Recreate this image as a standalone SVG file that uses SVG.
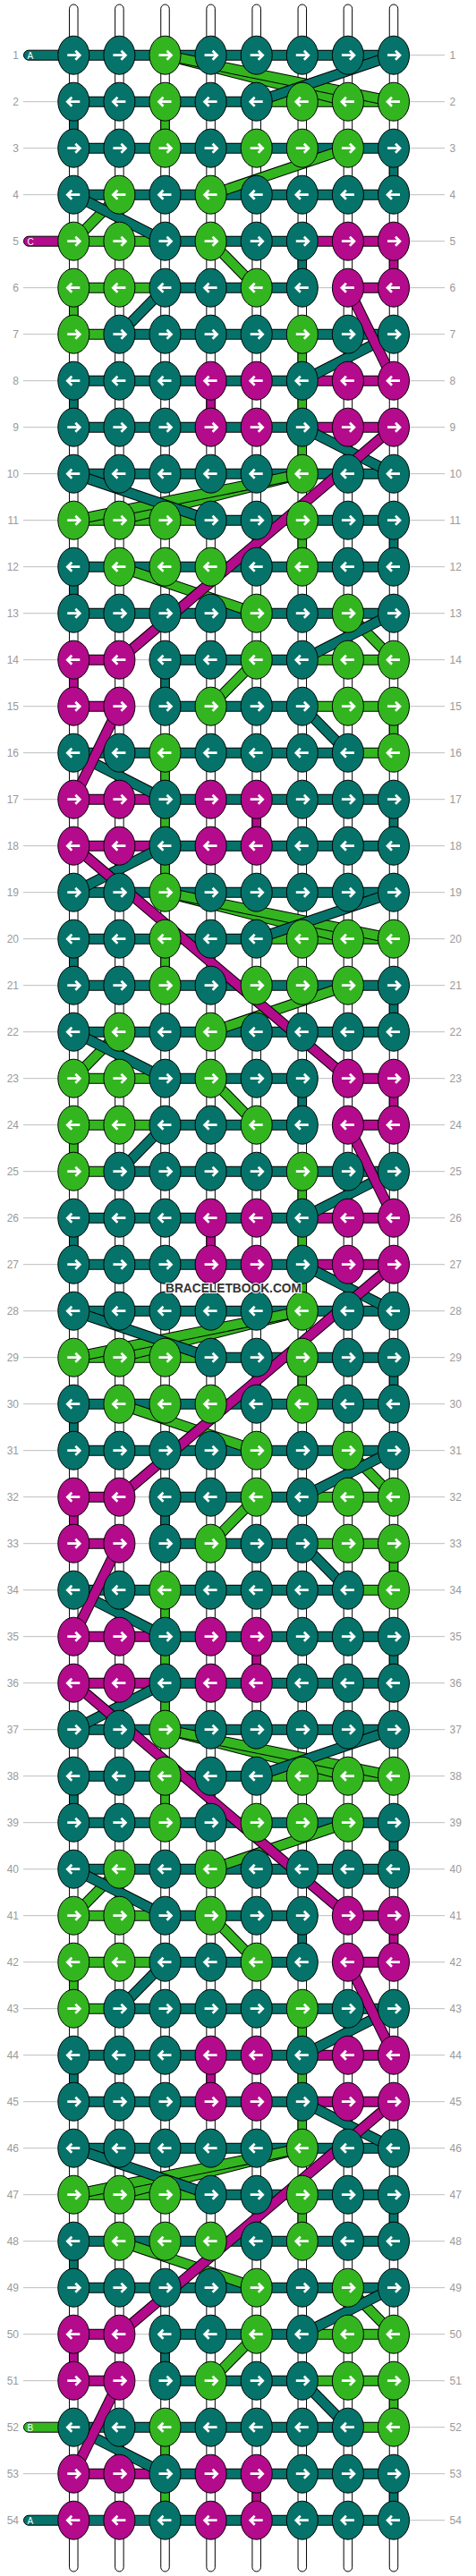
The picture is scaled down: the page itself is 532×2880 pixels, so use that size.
<svg xmlns="http://www.w3.org/2000/svg" width="532" height="2880" viewBox="0 0 532 2880">
<defs>
<style>
.rl{stroke:#bdbdbd;stroke-width:1;fill:none}
.lb{font-family:"Liberation Sans",Arial,sans-serif;font-size:12px;fill:#9a9a9a}
.st{fill:#fff;stroke:#000;stroke-width:1}
.o{fill:none;stroke:#000;stroke-width:12}
.t{fill:none;stroke:#05736A;stroke-width:10}
.g{fill:none;stroke:#33B51F;stroke-width:10}
.m{fill:none;stroke:#B40A8C;stroke-width:10}
.vT{fill:#05736A;stroke:#000;stroke-width:1}
.vG{fill:#33B51F;stroke:#000;stroke-width:1}
.vM{fill:#B40A8C;stroke:#000;stroke-width:1}
.ar{fill:none;stroke:#fff;stroke-width:2.7}
.li{font-family:"Liberation Sans",Arial,sans-serif;font-size:10px;fill:#fff}
</style>
<g id="TR"><ellipse rx="17.5" ry="21.5" fill="#05736A" stroke="#000"/><path class="ar" d="M-7,0H7M2,-5L7,0L2,5"/></g>
<g id="TL"><ellipse rx="17.5" ry="21.5" fill="#05736A" stroke="#000"/><path class="ar" d="M7,0H-7M-2,-5L-7,0L-2,5"/></g>
<g id="GR"><ellipse rx="17.5" ry="21.5" fill="#33B51F" stroke="#000"/><path class="ar" d="M-7,0H7M2,-5L7,0L2,5"/></g>
<g id="GL"><ellipse rx="17.5" ry="21.5" fill="#33B51F" stroke="#000"/><path class="ar" d="M7,0H-7M-2,-5L-7,0L-2,5"/></g>
<g id="MR"><ellipse rx="17.5" ry="21.5" fill="#B40A8C" stroke="#000"/><path class="ar" d="M-7,0H7M2,-5L7,0L2,5"/></g>
<g id="ML"><ellipse rx="17.5" ry="21.5" fill="#B40A8C" stroke="#000"/><path class="ar" d="M7,0H-7M-2,-5L-7,0L-2,5"/></g>
<g id="per">
<rect class="vT" x="77.55" y="113.7" width="9.5" height="52"/>
<rect class="vG" x="179.75" y="113.7" width="9.5" height="52"/>
<rect class="vT" x="435.25" y="165.7" width="9.5" height="52"/>
<rect class="vT" x="333.05" y="269.7" width="9.5" height="52"/>
<rect class="vM" x="435.25" y="269.7" width="9.5" height="52"/>
<rect class="vG" x="77.55" y="321.7" width="9.5" height="52"/>
<rect class="vG" x="333.05" y="373.7" width="9.5" height="52"/>
<rect class="vT" x="77.55" y="425.7" width="9.5" height="52"/>
<rect class="vM" x="230.85" y="425.7" width="9.5" height="52"/>
<rect class="vG" x="333.05" y="425.7" width="9.5" height="52"/>
<rect class="vG" x="333.05" y="477.7" width="9.5" height="52"/>
<rect class="vG" x="333.05" y="581.7" width="9.5" height="52"/>
<rect class="vT" x="435.25" y="581.7" width="9.5" height="52"/>
<rect class="vT" x="77.55" y="633.7" width="9.5" height="52"/>
<rect class="vM" x="77.55" y="737.7" width="9.5" height="52"/>
<rect class="vT" x="179.75" y="737.7" width="9.5" height="52"/>
<rect class="vG" x="435.25" y="789.7" width="9.5" height="52"/>
<rect class="vG" x="179.75" y="841.7" width="9.5" height="52"/>
<rect class="vG" x="179.75" y="893.7" width="9.5" height="52"/>
<rect class="vM" x="281.95" y="893.7" width="9.5" height="52"/>
<rect class="vT" x="435.25" y="893.7" width="9.5" height="52"/>
<path class="o" d="M82.3,61.7H440M82.3,113.7H440M82.3,165.7H440M82.3,217.7H440M82.3,269.7H337.8M388.9,269.7H440M82.3,321.7H337.8M388.9,321.7H440M82.3,373.7H440M82.3,425.7H440M82.3,477.7H440M82.3,529.7H440M82.3,581.7H440M82.3,633.7H440M82.3,685.7H440M82.3,737.7H133.4M184.5,737.7H440M82.3,789.7H133.4M184.5,789.7H440M82.3,841.7H440M82.3,893.7H440M82.3,945.7H440"/>
<path class="t" d="M82.3,61.7H440M82.3,113.7H286.7M82.3,165.7H440M82.3,217.7H440M184.5,269.7H337.8M184.5,321.7H337.8M133.4,373.7H440M82.3,425.7H337.8M82.3,477.7H337.8M82.3,529.7H440M235.6,581.7H440M82.3,633.7H440M82.3,685.7H440M184.5,737.7H337.8M184.5,789.7H337.8M82.3,841.7H388.9M184.5,893.7H440M184.5,945.7H440"/>
<path class="g" d="M286.7,113.7H440M82.3,269.7H184.5M82.3,321.7H184.5M82.3,373.7H133.4M82.3,581.7H235.6M337.8,737.7H440M337.8,789.7H440M388.9,841.7H440"/>
<path class="m" d="M388.9,269.7H440M388.9,321.7H440M337.8,425.7H440M337.8,477.7H440M82.3,737.7H133.4M82.3,789.7H133.4M82.3,893.7H184.5M82.3,945.7H184.5"/>
<path class="o" d="M184.5,61.7L388.9,113.7"/><path class="g" d="M184.5,61.7L388.9,113.7"/>
<path class="o" d="M184.5,61.7L440,113.7"/><path class="g" d="M184.5,61.7L440,113.7"/>
<path class="o" d="M388.9,165.7L235.6,217.7"/><path class="g" d="M388.9,165.7L235.6,217.7"/>
<path class="o" d="M133.4,217.7L82.3,269.7"/><path class="g" d="M133.4,217.7L82.3,269.7"/>
<path class="o" d="M235.6,269.7L286.7,321.7"/><path class="g" d="M235.6,269.7L286.7,321.7"/>
<path class="o" d="M337.8,529.7L133.4,581.7"/><path class="g" d="M337.8,529.7L133.4,581.7"/>
<path class="o" d="M337.8,529.7L82.3,581.7"/><path class="g" d="M337.8,529.7L82.3,581.7"/>
<path class="o" d="M133.4,633.7L286.7,685.7"/><path class="g" d="M133.4,633.7L286.7,685.7"/>
<path class="o" d="M388.9,685.7L440,737.7"/><path class="g" d="M388.9,685.7L440,737.7"/>
<path class="o" d="M286.7,737.7L235.6,789.7"/><path class="g" d="M286.7,737.7L235.6,789.7"/>
<path class="o" d="M440,61.7L286.7,113.7"/><path class="t" d="M440,61.7L286.7,113.7"/>
<path class="o" d="M82.3,217.7L184.5,269.7"/><path class="t" d="M82.3,217.7L184.5,269.7"/>
<path class="o" d="M184.5,321.7L133.4,373.7"/><path class="t" d="M184.5,321.7L133.4,373.7"/>
<path class="o" d="M440,373.7L337.8,425.7"/><path class="t" d="M440,373.7L337.8,425.7"/>
<path class="o" d="M337.8,477.7L440,529.7"/><path class="t" d="M337.8,477.7L440,529.7"/>
<path class="o" d="M82.3,529.7L235.6,581.7"/><path class="t" d="M82.3,529.7L235.6,581.7"/>
<path class="o" d="M440,685.7L337.8,737.7"/><path class="t" d="M440,685.7L337.8,737.7"/>
<path class="o" d="M337.8,789.7L388.9,841.7"/><path class="t" d="M337.8,789.7L388.9,841.7"/>
<path class="o" d="M82.3,841.7L184.5,893.7"/><path class="t" d="M82.3,841.7L184.5,893.7"/>
<path class="o" d="M388.9,321.7L440,425.7"/><path class="m" d="M388.9,321.7L440,425.7"/>
<path class="o" d="M440,477.7L133.4,737.7"/><path class="m" d="M440,477.7L133.4,737.7"/>
<path class="o" d="M133.4,789.7L82.3,893.7"/><path class="m" d="M133.4,789.7L82.3,893.7"/>
</g>
</defs>
<rect width="532" height="2880" fill="#fff"/>
<g id="rowlines">
<path class="rl" d="M26,61.7H497M26,113.7H497M26,165.7H497M26,217.7H497M26,269.7H497M26,321.7H497M26,373.7H497M26,425.7H497M26,477.7H497M26,529.7H497M26,581.7H497M26,633.7H497M26,685.7H497M26,737.7H497M26,789.7H497M26,841.7H497M26,893.7H497M26,945.7H497M26,997.7H497M26,1049.7H497M26,1101.7H497M26,1153.7H497M26,1205.7H497M26,1257.7H497M26,1309.7H497M26,1361.7H497M26,1413.7H497M26,1465.7H497M26,1517.7H497M26,1569.7H497M26,1621.7H497M26,1673.7H497M26,1725.7H497M26,1777.7H497M26,1829.7H497M26,1881.7H497M26,1933.7H497M26,1985.7H497M26,2037.7H497M26,2089.7H497M26,2141.7H497M26,2193.7H497M26,2245.7H497M26,2297.7H497M26,2349.7H497M26,2401.7H497M26,2453.7H497M26,2505.7H497M26,2557.7H497M26,2609.7H497M26,2661.7H497M26,2713.7H497M26,2765.7H497M26,2817.7H497"/>
</g>
<g id="strings">
<rect class="st" x="77.55" y="5" width="9.5" height="2870" rx="4.75"/>
<rect class="st" x="128.65" y="5" width="9.5" height="2870" rx="4.75"/>
<rect class="st" x="179.75" y="5" width="9.5" height="2870" rx="4.75"/>
<rect class="st" x="230.85" y="5" width="9.5" height="2870" rx="4.75"/>
<rect class="st" x="281.95" y="5" width="9.5" height="2870" rx="4.75"/>
<rect class="st" x="333.05" y="5" width="9.5" height="2870" rx="4.75"/>
<rect class="st" x="384.15" y="5" width="9.5" height="2870" rx="4.75"/>
<rect class="st" x="435.25" y="5" width="9.5" height="2870" rx="4.75"/>
</g>
<g id="connectors">
<use href="#per"/>
<use href="#per" y="936"/>
<use href="#per" y="1872"/>
<path class="o" d="M337.8,269.7H388.9"/><path class="m" d="M337.8,269.7H388.9"/>
<path class="t" d="M82.3,2817.7H184.5"/>
<rect class="vG" x="179.75" y="945.7" width="9.5" height="52"/>
<rect class="vG" x="179.75" y="1881.7" width="9.5" height="52"/>
<path class="o" d="M184.5,945.7L82.3,997.7"/><path class="t" d="M184.5,945.7L82.3,997.7"/>
<path class="o" d="M184.5,1881.7L82.3,1933.7"/><path class="t" d="M184.5,1881.7L82.3,1933.7"/>
<path class="o" d="M82.3,945.7L388.9,1205.7"/><path class="m" d="M82.3,945.7L388.9,1205.7"/>
<path class="o" d="M82.3,1881.7L388.9,2141.7"/><path class="m" d="M82.3,1881.7L388.9,2141.7"/>
</g>
<g id="leadins">
<rect x="26.5" y="56.2" width="58" height="11" rx="5.5" fill="#05736A" stroke="#000"/><text class="li" x="30.5" y="65.6">A</text>
<rect x="26.5" y="264.2" width="58" height="11" rx="5.5" fill="#B40A8C" stroke="#000"/><text class="li" x="30.5" y="273.6">C</text>
<rect x="26.5" y="2708.2" width="58" height="11" rx="5.5" fill="#33B51F" stroke="#000"/><text class="li" x="30.5" y="2717.6">B</text>
<rect x="26.5" y="2812.2" width="58" height="11" rx="5.5" fill="#05736A" stroke="#000"/><text class="li" x="30.5" y="2821.6">A</text>
</g>
<g id="nodes">
<g transform="translate(0,61.7)"><g id="n1_1"><use href="#TR" x="82.3"/></g><g id="n1_2"><use href="#TR" x="133.4"/></g><g id="n1_3"><use href="#GR" x="184.5"/></g><g id="n1_4"><use href="#TR" x="235.6"/></g><g id="n1_5"><use href="#TR" x="286.7"/></g><g id="n1_6"><use href="#TR" x="337.8"/></g><g id="n1_7"><use href="#TR" x="388.9"/></g><g id="n1_8"><use href="#TR" x="440"/></g></g>
<g transform="translate(0,113.7)"><g id="n2_1"><use href="#TL" x="82.3"/></g><g id="n2_2"><use href="#TL" x="133.4"/></g><g id="n2_3"><use href="#GL" x="184.5"/></g><g id="n2_4"><use href="#TL" x="235.6"/></g><g id="n2_5"><use href="#TL" x="286.7"/></g><g id="n2_6"><use href="#GL" x="337.8"/></g><g id="n2_7"><use href="#GL" x="388.9"/></g><g id="n2_8"><use href="#GL" x="440"/></g></g>
<g transform="translate(0,165.7)"><g id="n3_1"><use href="#TR" x="82.3"/></g><g id="n3_2"><use href="#TR" x="133.4"/></g><g id="n3_3"><use href="#GR" x="184.5"/></g><g id="n3_4"><use href="#TR" x="235.6"/></g><g id="n3_5"><use href="#GR" x="286.7"/></g><g id="n3_6"><use href="#GR" x="337.8"/></g><g id="n3_7"><use href="#GR" x="388.9"/></g><g id="n3_8"><use href="#TR" x="440"/></g></g>
<g transform="translate(0,217.7)"><g id="n4_1"><use href="#TL" x="82.3"/></g><g id="n4_2"><use href="#GL" x="133.4"/></g><g id="n4_3"><use href="#TL" x="184.5"/></g><g id="n4_4"><use href="#GL" x="235.6"/></g><g id="n4_5"><use href="#TL" x="286.7"/></g><g id="n4_6"><use href="#TL" x="337.8"/></g><g id="n4_7"><use href="#TL" x="388.9"/></g><g id="n4_8"><use href="#TL" x="440"/></g></g>
<g transform="translate(0,269.7)"><g id="n5_1"><use href="#GR" x="82.3"/></g><g id="n5_2"><use href="#GR" x="133.4"/></g><g id="n5_3"><use href="#TR" x="184.5"/></g><g id="n5_4"><use href="#GR" x="235.6"/></g><g id="n5_5"><use href="#TR" x="286.7"/></g><g id="n5_6"><use href="#TR" x="337.8"/></g><g id="n5_7"><use href="#MR" x="388.9"/></g><g id="n5_8"><use href="#MR" x="440"/></g></g>
<g transform="translate(0,321.7)"><g id="n6_1"><use href="#GL" x="82.3"/></g><g id="n6_2"><use href="#GL" x="133.4"/></g><g id="n6_3"><use href="#TL" x="184.5"/></g><g id="n6_4"><use href="#TL" x="235.6"/></g><g id="n6_5"><use href="#GL" x="286.7"/></g><g id="n6_6"><use href="#TL" x="337.8"/></g><g id="n6_7"><use href="#ML" x="388.9"/></g><g id="n6_8"><use href="#ML" x="440"/></g></g>
<g transform="translate(0,373.7)"><g id="n7_1"><use href="#GR" x="82.3"/></g><g id="n7_2"><use href="#TR" x="133.4"/></g><g id="n7_3"><use href="#TR" x="184.5"/></g><g id="n7_4"><use href="#TR" x="235.6"/></g><g id="n7_5"><use href="#TR" x="286.7"/></g><g id="n7_6"><use href="#GR" x="337.8"/></g><g id="n7_7"><use href="#TR" x="388.9"/></g><g id="n7_8"><use href="#TR" x="440"/></g></g>
<g transform="translate(0,425.7)"><g id="n8_1"><use href="#TL" x="82.3"/></g><g id="n8_2"><use href="#TL" x="133.4"/></g><g id="n8_3"><use href="#TL" x="184.5"/></g><g id="n8_4"><use href="#ML" x="235.6"/></g><g id="n8_5"><use href="#ML" x="286.7"/></g><g id="n8_6"><use href="#TL" x="337.8"/></g><g id="n8_7"><use href="#ML" x="388.9"/></g><g id="n8_8"><use href="#ML" x="440"/></g></g>
<g transform="translate(0,477.7)"><g id="n9_1"><use href="#TR" x="82.3"/></g><g id="n9_2"><use href="#TR" x="133.4"/></g><g id="n9_3"><use href="#TR" x="184.5"/></g><g id="n9_4"><use href="#MR" x="235.6"/></g><g id="n9_5"><use href="#MR" x="286.7"/></g><g id="n9_6"><use href="#TR" x="337.8"/></g><g id="n9_7"><use href="#MR" x="388.9"/></g><g id="n9_8"><use href="#MR" x="440"/></g></g>
<g transform="translate(0,529.7)"><g id="n10_1"><use href="#TL" x="82.3"/></g><g id="n10_2"><use href="#TL" x="133.4"/></g><g id="n10_3"><use href="#TL" x="184.5"/></g><g id="n10_4"><use href="#TL" x="235.6"/></g><g id="n10_5"><use href="#TL" x="286.7"/></g><g id="n10_6"><use href="#GL" x="337.8"/></g><g id="n10_7"><use href="#TL" x="388.9"/></g><g id="n10_8"><use href="#TL" x="440"/></g></g>
<g transform="translate(0,581.7)"><g id="n11_1"><use href="#GR" x="82.3"/></g><g id="n11_2"><use href="#GR" x="133.4"/></g><g id="n11_3"><use href="#GR" x="184.5"/></g><g id="n11_4"><use href="#TR" x="235.6"/></g><g id="n11_5"><use href="#TR" x="286.7"/></g><g id="n11_6"><use href="#GR" x="337.8"/></g><g id="n11_7"><use href="#TR" x="388.9"/></g><g id="n11_8"><use href="#TR" x="440"/></g></g>
<g transform="translate(0,633.7)"><g id="n12_1"><use href="#TL" x="82.3"/></g><g id="n12_2"><use href="#GL" x="133.4"/></g><g id="n12_3"><use href="#GL" x="184.5"/></g><g id="n12_4"><use href="#GL" x="235.6"/></g><g id="n12_5"><use href="#TL" x="286.7"/></g><g id="n12_6"><use href="#GL" x="337.8"/></g><g id="n12_7"><use href="#TL" x="388.9"/></g><g id="n12_8"><use href="#TL" x="440"/></g></g>
<g transform="translate(0,685.7)"><g id="n13_1"><use href="#TR" x="82.3"/></g><g id="n13_2"><use href="#TR" x="133.4"/></g><g id="n13_3"><use href="#TR" x="184.5"/></g><g id="n13_4"><use href="#TR" x="235.6"/></g><g id="n13_5"><use href="#GR" x="286.7"/></g><g id="n13_6"><use href="#TR" x="337.8"/></g><g id="n13_7"><use href="#GR" x="388.9"/></g><g id="n13_8"><use href="#TR" x="440"/></g></g>
<g transform="translate(0,737.7)"><g id="n14_1"><use href="#ML" x="82.3"/></g><g id="n14_2"><use href="#ML" x="133.4"/></g><g id="n14_3"><use href="#TL" x="184.5"/></g><g id="n14_4"><use href="#TL" x="235.6"/></g><g id="n14_5"><use href="#GL" x="286.7"/></g><g id="n14_6"><use href="#TL" x="337.8"/></g><g id="n14_7"><use href="#GL" x="388.9"/></g><g id="n14_8"><use href="#GL" x="440"/></g></g>
<g transform="translate(0,789.7)"><g id="n15_1"><use href="#MR" x="82.3"/></g><g id="n15_2"><use href="#MR" x="133.4"/></g><g id="n15_3"><use href="#TR" x="184.5"/></g><g id="n15_4"><use href="#GR" x="235.6"/></g><g id="n15_5"><use href="#TR" x="286.7"/></g><g id="n15_6"><use href="#TR" x="337.8"/></g><g id="n15_7"><use href="#GR" x="388.9"/></g><g id="n15_8"><use href="#GR" x="440"/></g></g>
<g transform="translate(0,841.7)"><g id="n16_1"><use href="#TL" x="82.3"/></g><g id="n16_2"><use href="#TL" x="133.4"/></g><g id="n16_3"><use href="#GL" x="184.5"/></g><g id="n16_4"><use href="#TL" x="235.6"/></g><g id="n16_5"><use href="#TL" x="286.7"/></g><g id="n16_6"><use href="#TL" x="337.8"/></g><g id="n16_7"><use href="#TL" x="388.9"/></g><g id="n16_8"><use href="#GL" x="440"/></g></g>
<g transform="translate(0,893.7)"><g id="n17_1"><use href="#MR" x="82.3"/></g><g id="n17_2"><use href="#MR" x="133.4"/></g><g id="n17_3"><use href="#TR" x="184.5"/></g><g id="n17_4"><use href="#MR" x="235.6"/></g><g id="n17_5"><use href="#MR" x="286.7"/></g><g id="n17_6"><use href="#TR" x="337.8"/></g><g id="n17_7"><use href="#TR" x="388.9"/></g><g id="n17_8"><use href="#TR" x="440"/></g></g>
<g transform="translate(0,945.7)"><g id="n18_1"><use href="#ML" x="82.3"/></g><g id="n18_2"><use href="#ML" x="133.4"/></g><g id="n18_3"><use href="#TL" x="184.5"/></g><g id="n18_4"><use href="#ML" x="235.6"/></g><g id="n18_5"><use href="#ML" x="286.7"/></g><g id="n18_6"><use href="#TL" x="337.8"/></g><g id="n18_7"><use href="#TL" x="388.9"/></g><g id="n18_8"><use href="#TL" x="440"/></g></g>
<g transform="translate(0,997.7)"><g id="n19_1"><use href="#TR" x="82.3"/></g><g id="n19_2"><use href="#TR" x="133.4"/></g><g id="n19_3"><use href="#GR" x="184.5"/></g><g id="n19_4"><use href="#TR" x="235.6"/></g><g id="n19_5"><use href="#TR" x="286.7"/></g><g id="n19_6"><use href="#TR" x="337.8"/></g><g id="n19_7"><use href="#TR" x="388.9"/></g><g id="n19_8"><use href="#TR" x="440"/></g></g>
<g transform="translate(0,1049.7)"><g id="n20_1"><use href="#TL" x="82.3"/></g><g id="n20_2"><use href="#TL" x="133.4"/></g><g id="n20_3"><use href="#GL" x="184.5"/></g><g id="n20_4"><use href="#TL" x="235.6"/></g><g id="n20_5"><use href="#TL" x="286.7"/></g><g id="n20_6"><use href="#GL" x="337.8"/></g><g id="n20_7"><use href="#GL" x="388.9"/></g><g id="n20_8"><use href="#GL" x="440"/></g></g>
<g transform="translate(0,1101.7)"><g id="n21_1"><use href="#TR" x="82.3"/></g><g id="n21_2"><use href="#TR" x="133.4"/></g><g id="n21_3"><use href="#GR" x="184.5"/></g><g id="n21_4"><use href="#TR" x="235.6"/></g><g id="n21_5"><use href="#GR" x="286.7"/></g><g id="n21_6"><use href="#GR" x="337.8"/></g><g id="n21_7"><use href="#GR" x="388.9"/></g><g id="n21_8"><use href="#TR" x="440"/></g></g>
<g transform="translate(0,1153.7)"><g id="n22_1"><use href="#TL" x="82.3"/></g><g id="n22_2"><use href="#GL" x="133.4"/></g><g id="n22_3"><use href="#TL" x="184.5"/></g><g id="n22_4"><use href="#GL" x="235.6"/></g><g id="n22_5"><use href="#TL" x="286.7"/></g><g id="n22_6"><use href="#TL" x="337.8"/></g><g id="n22_7"><use href="#TL" x="388.9"/></g><g id="n22_8"><use href="#TL" x="440"/></g></g>
<g transform="translate(0,1205.7)"><g id="n23_1"><use href="#GR" x="82.3"/></g><g id="n23_2"><use href="#GR" x="133.4"/></g><g id="n23_3"><use href="#TR" x="184.5"/></g><g id="n23_4"><use href="#GR" x="235.6"/></g><g id="n23_5"><use href="#TR" x="286.7"/></g><g id="n23_6"><use href="#TR" x="337.8"/></g><g id="n23_7"><use href="#MR" x="388.9"/></g><g id="n23_8"><use href="#MR" x="440"/></g></g>
<g transform="translate(0,1257.7)"><g id="n24_1"><use href="#GL" x="82.3"/></g><g id="n24_2"><use href="#GL" x="133.4"/></g><g id="n24_3"><use href="#TL" x="184.5"/></g><g id="n24_4"><use href="#TL" x="235.6"/></g><g id="n24_5"><use href="#GL" x="286.7"/></g><g id="n24_6"><use href="#TL" x="337.8"/></g><g id="n24_7"><use href="#ML" x="388.9"/></g><g id="n24_8"><use href="#ML" x="440"/></g></g>
<g transform="translate(0,1309.7)"><g id="n25_1"><use href="#GR" x="82.3"/></g><g id="n25_2"><use href="#TR" x="133.4"/></g><g id="n25_3"><use href="#TR" x="184.5"/></g><g id="n25_4"><use href="#TR" x="235.6"/></g><g id="n25_5"><use href="#TR" x="286.7"/></g><g id="n25_6"><use href="#GR" x="337.8"/></g><g id="n25_7"><use href="#TR" x="388.9"/></g><g id="n25_8"><use href="#TR" x="440"/></g></g>
<g transform="translate(0,1361.7)"><g id="n26_1"><use href="#TL" x="82.3"/></g><g id="n26_2"><use href="#TL" x="133.4"/></g><g id="n26_3"><use href="#TL" x="184.5"/></g><g id="n26_4"><use href="#ML" x="235.6"/></g><g id="n26_5"><use href="#ML" x="286.7"/></g><g id="n26_6"><use href="#TL" x="337.8"/></g><g id="n26_7"><use href="#ML" x="388.9"/></g><g id="n26_8"><use href="#ML" x="440"/></g></g>
<g transform="translate(0,1413.7)"><g id="n27_1"><use href="#TR" x="82.3"/></g><g id="n27_2"><use href="#TR" x="133.4"/></g><g id="n27_3"><use href="#TR" x="184.5"/></g><g id="n27_4"><use href="#MR" x="235.6"/></g><g id="n27_5"><use href="#MR" x="286.7"/></g><g id="n27_6"><use href="#TR" x="337.8"/></g><g id="n27_7"><use href="#MR" x="388.9"/></g><g id="n27_8"><use href="#MR" x="440"/></g></g>
<g transform="translate(0,1465.7)"><g id="n28_1"><use href="#TL" x="82.3"/></g><g id="n28_2"><use href="#TL" x="133.4"/></g><g id="n28_3"><use href="#TL" x="184.5"/></g><g id="n28_4"><use href="#TL" x="235.6"/></g><g id="n28_5"><use href="#TL" x="286.7"/></g><g id="n28_6"><use href="#GL" x="337.8"/></g><g id="n28_7"><use href="#TL" x="388.9"/></g><g id="n28_8"><use href="#TL" x="440"/></g></g>
<g transform="translate(0,1517.7)"><g id="n29_1"><use href="#GR" x="82.3"/></g><g id="n29_2"><use href="#GR" x="133.4"/></g><g id="n29_3"><use href="#GR" x="184.5"/></g><g id="n29_4"><use href="#TR" x="235.6"/></g><g id="n29_5"><use href="#TR" x="286.7"/></g><g id="n29_6"><use href="#GR" x="337.8"/></g><g id="n29_7"><use href="#TR" x="388.9"/></g><g id="n29_8"><use href="#TR" x="440"/></g></g>
<g transform="translate(0,1569.7)"><g id="n30_1"><use href="#TL" x="82.3"/></g><g id="n30_2"><use href="#GL" x="133.4"/></g><g id="n30_3"><use href="#GL" x="184.5"/></g><g id="n30_4"><use href="#GL" x="235.6"/></g><g id="n30_5"><use href="#TL" x="286.7"/></g><g id="n30_6"><use href="#GL" x="337.8"/></g><g id="n30_7"><use href="#TL" x="388.9"/></g><g id="n30_8"><use href="#TL" x="440"/></g></g>
<g transform="translate(0,1621.7)"><g id="n31_1"><use href="#TR" x="82.3"/></g><g id="n31_2"><use href="#TR" x="133.4"/></g><g id="n31_3"><use href="#TR" x="184.5"/></g><g id="n31_4"><use href="#TR" x="235.6"/></g><g id="n31_5"><use href="#GR" x="286.7"/></g><g id="n31_6"><use href="#TR" x="337.8"/></g><g id="n31_7"><use href="#GR" x="388.9"/></g><g id="n31_8"><use href="#TR" x="440"/></g></g>
<g transform="translate(0,1673.7)"><g id="n32_1"><use href="#ML" x="82.3"/></g><g id="n32_2"><use href="#ML" x="133.4"/></g><g id="n32_3"><use href="#TL" x="184.5"/></g><g id="n32_4"><use href="#TL" x="235.6"/></g><g id="n32_5"><use href="#GL" x="286.7"/></g><g id="n32_6"><use href="#TL" x="337.8"/></g><g id="n32_7"><use href="#GL" x="388.9"/></g><g id="n32_8"><use href="#GL" x="440"/></g></g>
<g transform="translate(0,1725.7)"><g id="n33_1"><use href="#MR" x="82.3"/></g><g id="n33_2"><use href="#MR" x="133.4"/></g><g id="n33_3"><use href="#TR" x="184.5"/></g><g id="n33_4"><use href="#GR" x="235.6"/></g><g id="n33_5"><use href="#TR" x="286.7"/></g><g id="n33_6"><use href="#TR" x="337.8"/></g><g id="n33_7"><use href="#GR" x="388.9"/></g><g id="n33_8"><use href="#GR" x="440"/></g></g>
<g transform="translate(0,1777.7)"><g id="n34_1"><use href="#TL" x="82.3"/></g><g id="n34_2"><use href="#TL" x="133.4"/></g><g id="n34_3"><use href="#GL" x="184.5"/></g><g id="n34_4"><use href="#TL" x="235.6"/></g><g id="n34_5"><use href="#TL" x="286.7"/></g><g id="n34_6"><use href="#TL" x="337.8"/></g><g id="n34_7"><use href="#TL" x="388.9"/></g><g id="n34_8"><use href="#GL" x="440"/></g></g>
<g transform="translate(0,1829.7)"><g id="n35_1"><use href="#MR" x="82.3"/></g><g id="n35_2"><use href="#MR" x="133.4"/></g><g id="n35_3"><use href="#TR" x="184.5"/></g><g id="n35_4"><use href="#MR" x="235.6"/></g><g id="n35_5"><use href="#MR" x="286.7"/></g><g id="n35_6"><use href="#TR" x="337.8"/></g><g id="n35_7"><use href="#TR" x="388.9"/></g><g id="n35_8"><use href="#TR" x="440"/></g></g>
<g transform="translate(0,1881.7)"><g id="n36_1"><use href="#ML" x="82.3"/></g><g id="n36_2"><use href="#ML" x="133.4"/></g><g id="n36_3"><use href="#TL" x="184.5"/></g><g id="n36_4"><use href="#ML" x="235.6"/></g><g id="n36_5"><use href="#ML" x="286.7"/></g><g id="n36_6"><use href="#TL" x="337.8"/></g><g id="n36_7"><use href="#TL" x="388.9"/></g><g id="n36_8"><use href="#TL" x="440"/></g></g>
<g transform="translate(0,1933.7)"><g id="n37_1"><use href="#TR" x="82.3"/></g><g id="n37_2"><use href="#TR" x="133.4"/></g><g id="n37_3"><use href="#GR" x="184.5"/></g><g id="n37_4"><use href="#TR" x="235.6"/></g><g id="n37_5"><use href="#TR" x="286.7"/></g><g id="n37_6"><use href="#TR" x="337.8"/></g><g id="n37_7"><use href="#TR" x="388.9"/></g><g id="n37_8"><use href="#TR" x="440"/></g></g>
<g transform="translate(0,1985.7)"><g id="n38_1"><use href="#TL" x="82.3"/></g><g id="n38_2"><use href="#TL" x="133.4"/></g><g id="n38_3"><use href="#GL" x="184.5"/></g><g id="n38_4"><use href="#TL" x="235.6"/></g><g id="n38_5"><use href="#TL" x="286.7"/></g><g id="n38_6"><use href="#GL" x="337.8"/></g><g id="n38_7"><use href="#GL" x="388.9"/></g><g id="n38_8"><use href="#GL" x="440"/></g></g>
<g transform="translate(0,2037.7)"><g id="n39_1"><use href="#TR" x="82.3"/></g><g id="n39_2"><use href="#TR" x="133.4"/></g><g id="n39_3"><use href="#GR" x="184.5"/></g><g id="n39_4"><use href="#TR" x="235.6"/></g><g id="n39_5"><use href="#GR" x="286.7"/></g><g id="n39_6"><use href="#GR" x="337.8"/></g><g id="n39_7"><use href="#GR" x="388.9"/></g><g id="n39_8"><use href="#TR" x="440"/></g></g>
<g transform="translate(0,2089.7)"><g id="n40_1"><use href="#TL" x="82.3"/></g><g id="n40_2"><use href="#GL" x="133.4"/></g><g id="n40_3"><use href="#TL" x="184.5"/></g><g id="n40_4"><use href="#GL" x="235.6"/></g><g id="n40_5"><use href="#TL" x="286.7"/></g><g id="n40_6"><use href="#TL" x="337.8"/></g><g id="n40_7"><use href="#TL" x="388.9"/></g><g id="n40_8"><use href="#TL" x="440"/></g></g>
<g transform="translate(0,2141.7)"><g id="n41_1"><use href="#GR" x="82.3"/></g><g id="n41_2"><use href="#GR" x="133.4"/></g><g id="n41_3"><use href="#TR" x="184.5"/></g><g id="n41_4"><use href="#GR" x="235.6"/></g><g id="n41_5"><use href="#TR" x="286.7"/></g><g id="n41_6"><use href="#TR" x="337.8"/></g><g id="n41_7"><use href="#MR" x="388.9"/></g><g id="n41_8"><use href="#MR" x="440"/></g></g>
<g transform="translate(0,2193.7)"><g id="n42_1"><use href="#GL" x="82.3"/></g><g id="n42_2"><use href="#GL" x="133.4"/></g><g id="n42_3"><use href="#TL" x="184.5"/></g><g id="n42_4"><use href="#TL" x="235.6"/></g><g id="n42_5"><use href="#GL" x="286.7"/></g><g id="n42_6"><use href="#TL" x="337.8"/></g><g id="n42_7"><use href="#ML" x="388.9"/></g><g id="n42_8"><use href="#ML" x="440"/></g></g>
<g transform="translate(0,2245.7)"><g id="n43_1"><use href="#GR" x="82.3"/></g><g id="n43_2"><use href="#TR" x="133.4"/></g><g id="n43_3"><use href="#TR" x="184.5"/></g><g id="n43_4"><use href="#TR" x="235.6"/></g><g id="n43_5"><use href="#TR" x="286.7"/></g><g id="n43_6"><use href="#GR" x="337.8"/></g><g id="n43_7"><use href="#TR" x="388.9"/></g><g id="n43_8"><use href="#TR" x="440"/></g></g>
<g transform="translate(0,2297.7)"><g id="n44_1"><use href="#TL" x="82.3"/></g><g id="n44_2"><use href="#TL" x="133.4"/></g><g id="n44_3"><use href="#TL" x="184.5"/></g><g id="n44_4"><use href="#ML" x="235.6"/></g><g id="n44_5"><use href="#ML" x="286.7"/></g><g id="n44_6"><use href="#TL" x="337.8"/></g><g id="n44_7"><use href="#ML" x="388.9"/></g><g id="n44_8"><use href="#ML" x="440"/></g></g>
<g transform="translate(0,2349.7)"><g id="n45_1"><use href="#TR" x="82.3"/></g><g id="n45_2"><use href="#TR" x="133.4"/></g><g id="n45_3"><use href="#TR" x="184.5"/></g><g id="n45_4"><use href="#MR" x="235.6"/></g><g id="n45_5"><use href="#MR" x="286.7"/></g><g id="n45_6"><use href="#TR" x="337.8"/></g><g id="n45_7"><use href="#MR" x="388.9"/></g><g id="n45_8"><use href="#MR" x="440"/></g></g>
<g transform="translate(0,2401.7)"><g id="n46_1"><use href="#TL" x="82.3"/></g><g id="n46_2"><use href="#TL" x="133.4"/></g><g id="n46_3"><use href="#TL" x="184.5"/></g><g id="n46_4"><use href="#TL" x="235.6"/></g><g id="n46_5"><use href="#TL" x="286.7"/></g><g id="n46_6"><use href="#GL" x="337.8"/></g><g id="n46_7"><use href="#TL" x="388.9"/></g><g id="n46_8"><use href="#TL" x="440"/></g></g>
<g transform="translate(0,2453.7)"><g id="n47_1"><use href="#GR" x="82.3"/></g><g id="n47_2"><use href="#GR" x="133.4"/></g><g id="n47_3"><use href="#GR" x="184.5"/></g><g id="n47_4"><use href="#TR" x="235.6"/></g><g id="n47_5"><use href="#TR" x="286.7"/></g><g id="n47_6"><use href="#GR" x="337.8"/></g><g id="n47_7"><use href="#TR" x="388.9"/></g><g id="n47_8"><use href="#TR" x="440"/></g></g>
<g transform="translate(0,2505.7)"><g id="n48_1"><use href="#TL" x="82.3"/></g><g id="n48_2"><use href="#GL" x="133.4"/></g><g id="n48_3"><use href="#GL" x="184.5"/></g><g id="n48_4"><use href="#GL" x="235.6"/></g><g id="n48_5"><use href="#TL" x="286.7"/></g><g id="n48_6"><use href="#GL" x="337.8"/></g><g id="n48_7"><use href="#TL" x="388.9"/></g><g id="n48_8"><use href="#TL" x="440"/></g></g>
<g transform="translate(0,2557.7)"><g id="n49_1"><use href="#TR" x="82.3"/></g><g id="n49_2"><use href="#TR" x="133.4"/></g><g id="n49_3"><use href="#TR" x="184.5"/></g><g id="n49_4"><use href="#TR" x="235.6"/></g><g id="n49_5"><use href="#GR" x="286.7"/></g><g id="n49_6"><use href="#TR" x="337.8"/></g><g id="n49_7"><use href="#GR" x="388.9"/></g><g id="n49_8"><use href="#TR" x="440"/></g></g>
<g transform="translate(0,2609.7)"><g id="n50_1"><use href="#ML" x="82.3"/></g><g id="n50_2"><use href="#ML" x="133.4"/></g><g id="n50_3"><use href="#TL" x="184.5"/></g><g id="n50_4"><use href="#TL" x="235.6"/></g><g id="n50_5"><use href="#GL" x="286.7"/></g><g id="n50_6"><use href="#TL" x="337.8"/></g><g id="n50_7"><use href="#GL" x="388.9"/></g><g id="n50_8"><use href="#GL" x="440"/></g></g>
<g transform="translate(0,2661.7)"><g id="n51_1"><use href="#MR" x="82.3"/></g><g id="n51_2"><use href="#MR" x="133.4"/></g><g id="n51_3"><use href="#TR" x="184.5"/></g><g id="n51_4"><use href="#GR" x="235.6"/></g><g id="n51_5"><use href="#TR" x="286.7"/></g><g id="n51_6"><use href="#TR" x="337.8"/></g><g id="n51_7"><use href="#GR" x="388.9"/></g><g id="n51_8"><use href="#GR" x="440"/></g></g>
<g transform="translate(0,2713.7)"><g id="n52_1"><use href="#TL" x="82.3"/></g><g id="n52_2"><use href="#TL" x="133.4"/></g><g id="n52_3"><use href="#GL" x="184.5"/></g><g id="n52_4"><use href="#TL" x="235.6"/></g><g id="n52_5"><use href="#TL" x="286.7"/></g><g id="n52_6"><use href="#TL" x="337.8"/></g><g id="n52_7"><use href="#TL" x="388.9"/></g><g id="n52_8"><use href="#GL" x="440"/></g></g>
<g transform="translate(0,2765.7)"><g id="n53_1"><use href="#MR" x="82.3"/></g><g id="n53_2"><use href="#MR" x="133.4"/></g><g id="n53_3"><use href="#TR" x="184.5"/></g><g id="n53_4"><use href="#MR" x="235.6"/></g><g id="n53_5"><use href="#MR" x="286.7"/></g><g id="n53_6"><use href="#TR" x="337.8"/></g><g id="n53_7"><use href="#TR" x="388.9"/></g><g id="n53_8"><use href="#TR" x="440"/></g></g>
<g transform="translate(0,2817.7)"><g id="n54_1"><use href="#ML" x="82.3"/></g><g id="n54_2"><use href="#ML" x="133.4"/></g><g id="n54_3"><use href="#TL" x="184.5"/></g><g id="n54_4"><use href="#ML" x="235.6"/></g><g id="n54_5"><use href="#ML" x="286.7"/></g><g id="n54_6"><use href="#TL" x="337.8"/></g><g id="n54_7"><use href="#TL" x="388.9"/></g><g id="n54_8"><use href="#TL" x="440"/></g></g>
</g>
<g id="labels" class="lb">
<text x="21" y="66" text-anchor="end">1</text><text x="502.5" y="66">1</text>
<text x="21" y="118" text-anchor="end">2</text><text x="502.5" y="118">2</text>
<text x="21" y="170" text-anchor="end">3</text><text x="502.5" y="170">3</text>
<text x="21" y="222" text-anchor="end">4</text><text x="502.5" y="222">4</text>
<text x="21" y="274" text-anchor="end">5</text><text x="502.5" y="274">5</text>
<text x="21" y="326" text-anchor="end">6</text><text x="502.5" y="326">6</text>
<text x="21" y="378" text-anchor="end">7</text><text x="502.5" y="378">7</text>
<text x="21" y="430" text-anchor="end">8</text><text x="502.5" y="430">8</text>
<text x="21" y="482" text-anchor="end">9</text><text x="502.5" y="482">9</text>
<text x="21" y="534" text-anchor="end">10</text><text x="502.5" y="534">10</text>
<text x="21" y="586" text-anchor="end">11</text><text x="502.5" y="586">11</text>
<text x="21" y="638" text-anchor="end">12</text><text x="502.5" y="638">12</text>
<text x="21" y="690" text-anchor="end">13</text><text x="502.5" y="690">13</text>
<text x="21" y="742" text-anchor="end">14</text><text x="502.5" y="742">14</text>
<text x="21" y="794" text-anchor="end">15</text><text x="502.5" y="794">15</text>
<text x="21" y="846" text-anchor="end">16</text><text x="502.5" y="846">16</text>
<text x="21" y="898" text-anchor="end">17</text><text x="502.5" y="898">17</text>
<text x="21" y="950" text-anchor="end">18</text><text x="502.5" y="950">18</text>
<text x="21" y="1002" text-anchor="end">19</text><text x="502.5" y="1002">19</text>
<text x="21" y="1054" text-anchor="end">20</text><text x="502.5" y="1054">20</text>
<text x="21" y="1106" text-anchor="end">21</text><text x="502.5" y="1106">21</text>
<text x="21" y="1158" text-anchor="end">22</text><text x="502.5" y="1158">22</text>
<text x="21" y="1210" text-anchor="end">23</text><text x="502.5" y="1210">23</text>
<text x="21" y="1262" text-anchor="end">24</text><text x="502.5" y="1262">24</text>
<text x="21" y="1314" text-anchor="end">25</text><text x="502.5" y="1314">25</text>
<text x="21" y="1366" text-anchor="end">26</text><text x="502.5" y="1366">26</text>
<text x="21" y="1418" text-anchor="end">27</text><text x="502.5" y="1418">27</text>
<text x="21" y="1470" text-anchor="end">28</text><text x="502.5" y="1470">28</text>
<text x="21" y="1522" text-anchor="end">29</text><text x="502.5" y="1522">29</text>
<text x="21" y="1574" text-anchor="end">30</text><text x="502.5" y="1574">30</text>
<text x="21" y="1626" text-anchor="end">31</text><text x="502.5" y="1626">31</text>
<text x="21" y="1678" text-anchor="end">32</text><text x="502.5" y="1678">32</text>
<text x="21" y="1730" text-anchor="end">33</text><text x="502.5" y="1730">33</text>
<text x="21" y="1782" text-anchor="end">34</text><text x="502.5" y="1782">34</text>
<text x="21" y="1834" text-anchor="end">35</text><text x="502.5" y="1834">35</text>
<text x="21" y="1886" text-anchor="end">36</text><text x="502.5" y="1886">36</text>
<text x="21" y="1938" text-anchor="end">37</text><text x="502.5" y="1938">37</text>
<text x="21" y="1990" text-anchor="end">38</text><text x="502.5" y="1990">38</text>
<text x="21" y="2042" text-anchor="end">39</text><text x="502.5" y="2042">39</text>
<text x="21" y="2094" text-anchor="end">40</text><text x="502.5" y="2094">40</text>
<text x="21" y="2146" text-anchor="end">41</text><text x="502.5" y="2146">41</text>
<text x="21" y="2198" text-anchor="end">42</text><text x="502.5" y="2198">42</text>
<text x="21" y="2250" text-anchor="end">43</text><text x="502.5" y="2250">43</text>
<text x="21" y="2302" text-anchor="end">44</text><text x="502.5" y="2302">44</text>
<text x="21" y="2354" text-anchor="end">45</text><text x="502.5" y="2354">45</text>
<text x="21" y="2406" text-anchor="end">46</text><text x="502.5" y="2406">46</text>
<text x="21" y="2458" text-anchor="end">47</text><text x="502.5" y="2458">47</text>
<text x="21" y="2510" text-anchor="end">48</text><text x="502.5" y="2510">48</text>
<text x="21" y="2562" text-anchor="end">49</text><text x="502.5" y="2562">49</text>
<text x="21" y="2614" text-anchor="end">50</text><text x="502.5" y="2614">50</text>
<text x="21" y="2666" text-anchor="end">51</text><text x="502.5" y="2666">51</text>
<text x="21" y="2718" text-anchor="end">52</text><text x="502.5" y="2718">52</text>
<text x="21" y="2770" text-anchor="end">53</text><text x="502.5" y="2770">53</text>
<text x="21" y="2822" text-anchor="end">54</text><text x="502.5" y="2822">54</text>
</g>
<text x="261" y="1444.5" text-anchor="middle" font-family="'Liberation Sans',Arial,sans-serif" font-weight="bold" font-size="13.75" fill="#333" stroke="#fff" stroke-width="2" paint-order="stroke">BRACELETBOOK.COM</text>
</svg>
